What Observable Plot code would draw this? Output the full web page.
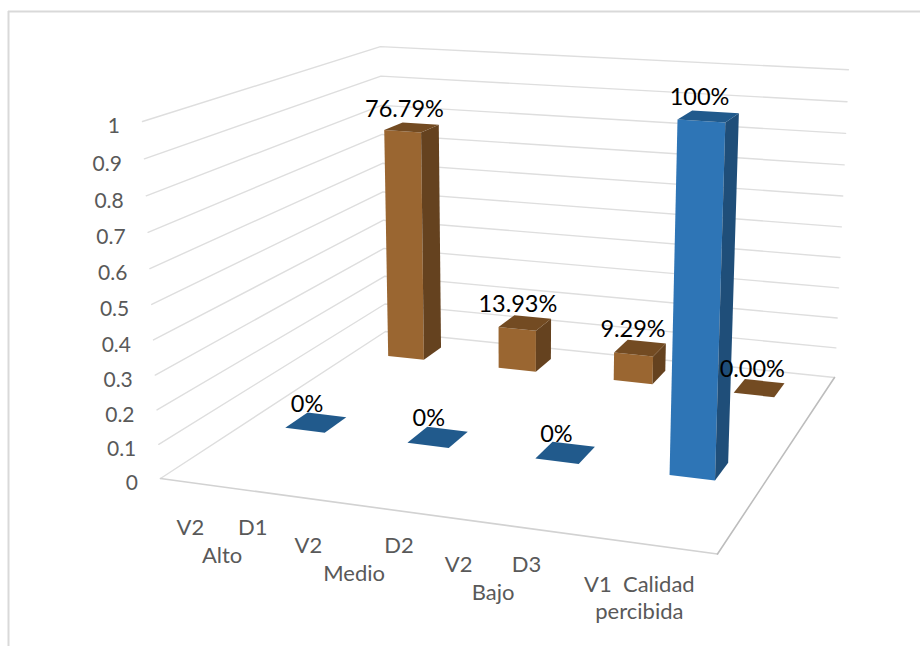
<!DOCTYPE html>
<html>
<head>
<meta charset="utf-8">
<script src="https://cdn.jsdelivr.net/npm/d3@7"></script>
<script src="https://cdn.jsdelivr.net/npm/@observablehq/plot@0.6"></script>
<style>
  html, body { margin: 0; padding: 0; background: #fff; overflow: hidden; }
  svg { display: block; }
</style>
</head>
<body>
<div id="chart"></div>
<script>
// Category labels along the front edge of the floor
const categories = [
  "V2\u00A0\u00A0\u00A0\u00A0\u00A0\u00A0D1\nAlto",
  "V2\u00A0\u00A0\u00A0\u00A0\u00A0\u00A0\u00A0\u00A0\u00A0\u00A0\u00A0D2\nMedio",
  "V2\u00A0\u00A0\u00A0\u00A0\u00A0\u00A0\u00A0D3\nBajo",
  "V1\u00A0\u00A0Calidad\npercibida"
];
// Series values, front row and back row
const blueValues = [0, 0, 0, 1];
const brownValues = [0.7679, 0.1393, 0.0929, 0];
const blueLabels = ["0%", "0%", "0%", "100%"];
const brownLabels = ["76.79%", "13.93%", "9.29%", "0.00%"];
const ticks = [0, 0.1, 0.2, 0.3, 0.4, 0.5, 0.6, 0.7, 0.8, 0.9, 1];

// Perspective camera for the chart box: u runs along the categories,
// v runs into the depth, w is the value axis.
const origin = [160, 478], uEnd = [717, 553.5], vEnd = [385, 331], wEnd = [142, 121], farCorner = [834, 377];

// Solve the floor's perspective terms from its four corners
const rhs = i => uEnd[i] + vEnd[i] - origin[i] - farCorner[i];
const m = i => [farCorner[i] - uEnd[i], farCorner[i] - vEnd[i]];
const det = m(0)[0] * m(1)[1] - m(0)[1] * m(1)[0];
const ka = (rhs(0) * m(1)[1] - m(0)[1] * rhs(1)) / det;
const kb = (m(0)[0] * rhs(1) - rhs(0) * m(1)[0]) / det;
const kc = -0.0486;

function project(u, v, w) {
  const d = 1 + ka * u + kb * v + kc * w;
  const axis = i =>
    origin[i] +
    u * ((1 + ka) * uEnd[i] - origin[i]) +
    v * ((1 + kb) * vEnd[i] - origin[i]) +
    w * ((1 + kc) * wEnd[i] - origin[i]);
  return [axis(0) / d, axis(1) / d];
}

const barWidth = 0.082, barDepth = 0.098;
const rows = [
  {v: 0.373, shift: 0, values: blueValues, labels: blueLabels, front: "#2E75B6", side: "#1F4E79", top: "#215A8C"},
  {v: 0.877, shift: -0.004, values: brownValues, labels: brownLabels, front: "#9A6631", side: "#65421F", top: "#734B22"}
];

// Polygons for the bars, back row first so nearer bars paint over farther ones
const faces = [];
function addFace(id, shade, corners) {
  corners.forEach(([u, v, w]) => {
    const [x, y] = project(u, v, w);
    faces.push({id, shade, x, y});
  });
}
[...rows].reverse().forEach((row, r) => {
  row.values.forEach((value, i) => {
    const uc = (i + 0.5) / categories.length + row.shift;
    const u0 = uc - barWidth / 2, u1 = uc + barWidth / 2;
    const v0 = row.v - barDepth / 2, v1 = row.v + barDepth / 2;
    if (value > 0) {
      addFace(`f${r}${i}`, row.front, [[u0, v0, 0], [u1, v0, 0], [u1, v0, value], [u0, v0, value]]);
      addFace(`s${r}${i}`, row.side, [[u1, v0, 0], [u1, v1, 0], [u1, v1, value], [u1, v0, value]]);
    }
    addFace(`t${r}${i}`, row.top, [[u0, v0, value], [u1, v0, value], [u1, v1, value], [u0, v1, value]]);
  });
});

// Gridlines run along the left wall and on across the back wall
const grid = ticks.flatMap(t =>
  [[0, 0], [0, 1], [1, 1]].map(([u, v]) => {
    const [x, y] = project(u, v, t);
    return {t, x, y};
  })
);
const frontEdge = [[0, 0], [1, 0]].map(([u, v]) => project(u, v, 0));
const rightEdge = [[1, 0], [1, 1]].map(([u, v]) => project(u, v, 0));

const tickLabels = ticks.map(t => {
  const [x, y] = project(0, 0, t);
  return {text: String(t), x, y};
});
const categoryLabels = categories.map((text, i) => {
  const [x, y] = project((i + 0.5) / categories.length, 0, 0);
  return {text, x, y};
});
const dataLabels = rows.flatMap(row =>
  row.values.map((value, i) => {
    const [x, y] = project((i + 0.5) / categories.length, row.v, value);
    return {text: row.labels[i], x, y};
  })
);

const plot = Plot.plot({
  width: 920,
  height: 646,
  margin: 0,
  x: {domain: [0, 920], range: [0, 920], axis: null},
  y: {domain: [0, 646], range: [0, 646], axis: null},
  color: {type: "identity"},
  style: {fontFamily: "Lato, sans-serif", background: "#fff"},
  marks: [
    // chart area border: left and top sides only are in view
    Plot.ruleX([8], {y1: 11, y2: 646, stroke: "#D9D9D9", strokeWidth: 2}),
    Plot.ruleY([11], {x1: 8, x2: 920, stroke: "#D9D9D9", strokeWidth: 2}),
    Plot.line(grid, {x: "x", y: "y", z: "t", stroke: "#DEDEDE", strokeWidth: 1.4, curve: "linear"}),
    Plot.line(frontEdge, {x: d => d[0], y: d => d[1], stroke: "#D2D2D2", strokeWidth: 1.6}),
    Plot.line(rightEdge, {x: d => d[0], y: d => d[1], stroke: "#BDBDBD", strokeWidth: 1.6}),
    Plot.line(faces, {x: "x", y: "y", z: "id", fill: "shade", stroke: "none", curve: "linear-closed"}),
    Plot.text(tickLabels, {x: "x", y: "y", text: "text", dx: -22.5, dy: 5, textAnchor: "end", fontSize: 21, fill: "#595959"}),
    Plot.text(categoryLabels, {x: "x", y: "y", text: "text", dx: -2, dy: 28, lineAnchor: "top", lineHeight: 1.27, fontSize: 22, fill: "#595959"}),
    Plot.text(dataLabels, {x: "x", y: "y", text: "text", dx: -9, dy: -18.5, fontSize: 23.5, fill: "#000"})
  ]
});
document.getElementById("chart").appendChild(plot);
</script>
</body>
</html>
